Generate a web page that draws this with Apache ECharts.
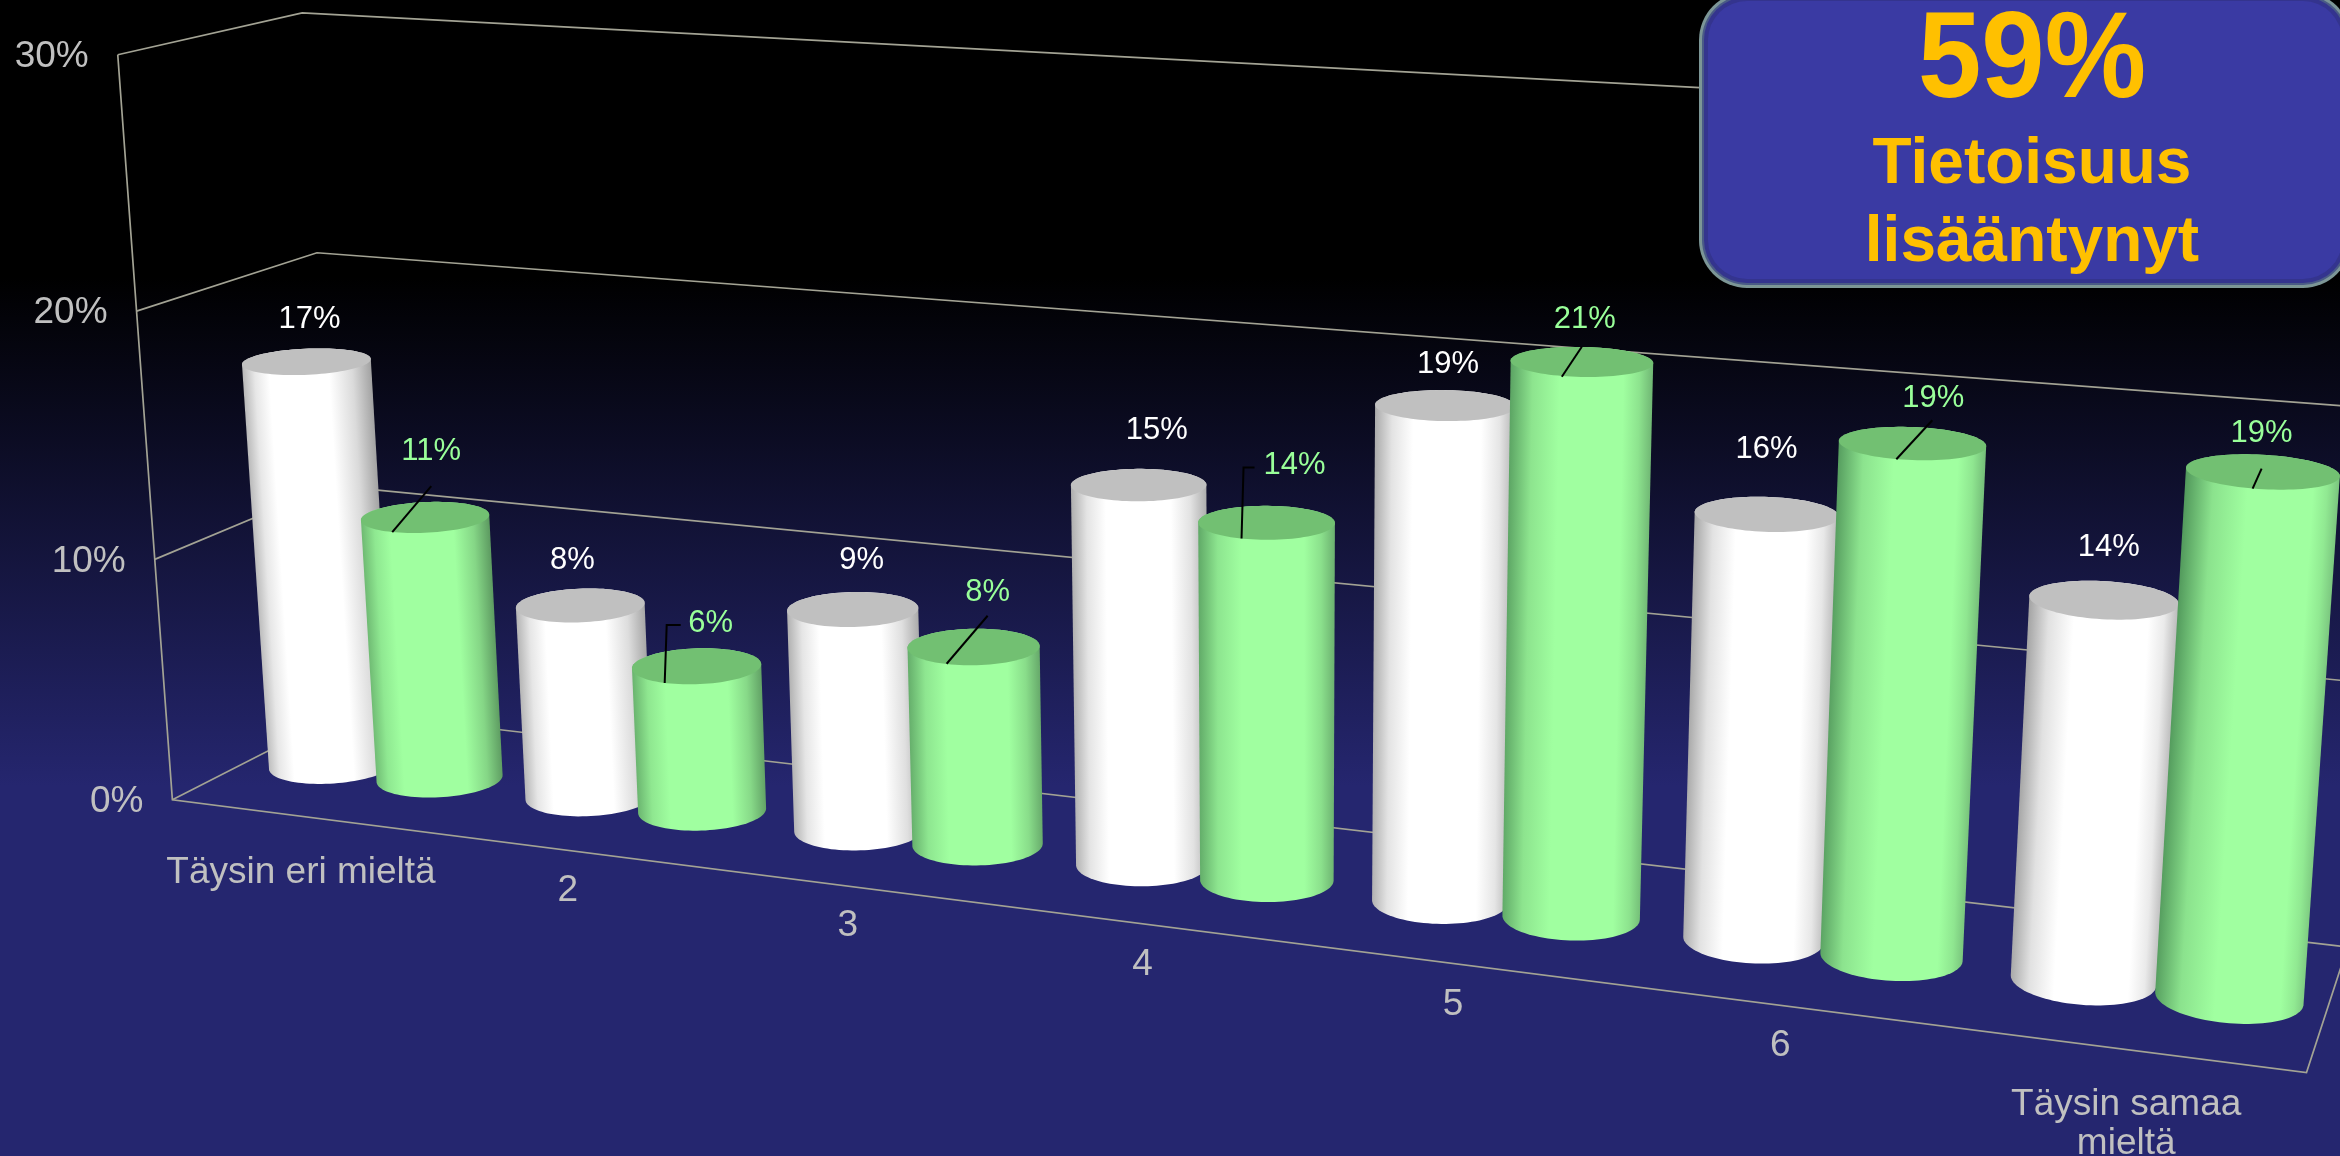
<!DOCTYPE html>
<html>
<head>
<meta charset="utf-8">
<title>Tietoisuus lisääntynyt</title>
<style>html,body{margin:0;padding:0;background:#000}#chart{width:2340px;height:1156px}</style>
<script src="https://cdn.jsdelivr.net/npm/echarts@6/dist/echarts.min.js"></script>
</head>
<body>
<div id="chart"></div>
<script>
// Survey answers, percent of respondents per response step
const categories = ['Täysin eri mieltä', '2', '3', '4', '5', '6', 'Täysin samaa\nmieltä'];
const whiteValues = [17, 8, 9, 15, 19, 16, 14];
const greenValues = [11, 6, 8, 14, 21, 19, 19];
const tickValues = [0, 10, 20, 30];
const tickLabels = ['0%', '10%', '20%', '30%'];
const calloutLines = ['59%', 'Tietoisuus', 'lisääntynyt'];

// Layout of the value labels, relative to the centre of each cylinder's top
const whiteLabelShift = [[3, -45], [-8, -48], [9, -52], [18, -57], [3, -44], [0, -68], [5, -55]];
const greenLabelShift = [[6, -69], [14, -46], [14, -57], [28, -60], [3, -45], [21, -48], [-1, -41]];
const greenLeaders = [
  [[6, -31], [-33, 15]],
  [[-16, -41], [-30, -41], [-32, 17]],
  [[14, -31], [-27, 17]],
  [[-12, -55], [-23, -55], [-25, 16]],
  [[0, -15], [-20, 15]],
  [[20, -23], [-16, 16]],
  [[-1, -3], [-10, 17]]
];
const categoryLabelDrop = [54, 37, 37, 38, 38, 38, 72];

// Camera: floor corners on screen plus the vanishing point of the vertical edges
const FLOOR = { fl: [172.4, 799.8], fr: [2306.5, 1072.5], br: [2347.5, 947], bl: [345.2, 711.5] };
const VANISH = [1280, 15900];
const HEIGHT_K = -0.04702 / 30;
const WIDTH = 2340, HEIGHT = 1156, STEPS = 7, VMAX = 30;
const TEXT_NUDGE = 3;

const whiteSlot = 0.295, greenSlot = 0.72, barRadius = 0.212, depthCentre = 0.48, depthRadius = 0.195;

const H = (function () {
  const [x0, y0] = FLOOR.fl, [x1, y1] = FLOOR.fr, [x2, y2] = FLOOR.br, [x3, y3] = FLOOR.bl;
  const dx1 = x1 - x2, dx2 = x3 - x2, sx = x0 - x1 + x2 - x3;
  const dy1 = y1 - y2, dy2 = y3 - y2, sy = y0 - y1 + y2 - y3;
  const den = dx1 * dy2 - dx2 * dy1;
  const g = (sx * dy2 - dx2 * sy) / den, h = (dx1 * sy - sx * dy1) / den;
  return { a: x1 - x0 + g * x1, b: x3 - x0 + h * x3, c: x0, d: y1 - y0 + g * y1, e: y3 - y0 + h * y3, f: y0, g, h };
})();

// X runs 0..1 along the categories, D 0..1 from front to back, Z in percent
function project(X, D, Z) {
  const k = Z * HEIGHT_K;
  const w = H.g * X + H.h * D + 1 + k;
  return [
    (H.a * X + H.b * D + H.c + k * VANISH[0]) / w,
    (H.d * X + H.e * D + H.f + k * VANISH[1]) / w
  ];
}

// Flat grid coordinates from the hidden axes become floor position and height
function world(api, pos, val) {
  const p = api.coord([pos, val]);
  return { X: p[0] / WIDTH, Z: VMAX * (1 - p[1] / HEIGHT) };
}

function circle(cx, z) {
  const pts = [];
  const rx = barRadius / STEPS;
  for (let i = 0; i < 96; i++) {
    const t = (i / 96) * Math.PI * 2;
    pts.push(project(cx + rx * Math.cos(t), depthCentre + depthRadius * Math.sin(t), z));
  }
  return pts;
}

function hull(points) {
  const p = points.slice().sort((a, b) => a[0] - b[0] || a[1] - b[1]);
  const cross = (o, a, b) => (a[0] - o[0]) * (b[1] - o[1]) - (a[1] - o[1]) * (b[0] - o[0]);
  const lower = [], upper = [];
  for (const q of p) {
    while (lower.length > 1 && cross(lower[lower.length - 2], lower[lower.length - 1], q) <= 0) lower.pop();
    lower.push(q);
  }
  for (let i = p.length - 1; i >= 0; i--) {
    const q = p[i];
    while (upper.length > 1 && cross(upper[upper.length - 2], upper[upper.length - 1], q) <= 0) upper.pop();
    upper.push(q);
  }
  lower.pop(); upper.pop();
  return lower.concat(upper);
}

function mix(c0, c1, t) {
  return 'rgb(' + c0.map((v, i) => Math.round(v + (c1[i] - v) * t)).join(',') + ')';
}

function textEl(text, x, y, fill, size, extra) {
  return {
    type: 'text',
    style: Object.assign({
      text, x, y: y + TEXT_NUDGE, fill, fontSize: size, fontFamily: '"Liberation Sans", Arial, sans-serif',
      align: 'center', verticalAlign: 'middle'
    }, extra || {})
  };
}

function lineEl(points, stroke, width) {
  return { type: 'polyline', shape: { points }, style: { stroke, lineWidth: width, fill: null } };
}

// Cylinder body shaded across its width; the lit band drifts with the distance along the floor
function cylinderItem(palette, labels, leaders) {
  return function (params, api) {
    const i = params.dataIndex;
    const val = api.value(1);
    const w = world(api, api.value(0), val);
    const base = world(api, api.value(0), 0);
    const bottom = circle(base.X, 0);
    const top = circle(w.X, w.Z);
    const cBottom = project(base.X, depthCentre, 0), cTop = project(w.X, depthCentre, w.Z);
    let ax = cTop[0] - cBottom[0], ay = cTop[1] - cBottom[1];
    const len = Math.hypot(ax, ay);
    ax /= len; ay /= len;
    const half = (Math.max(...top.map(p => p[0])) - Math.min(...top.map(p => p[0]))) / 2;
    const mx = (cTop[0] + cBottom[0]) / 2, my = (cTop[1] + cBottom[1]) / 2;
    const s1 = palette.lit0 + palette.litDrift0 * w.X, s2 = palette.lit1 + palette.litDrift1 * w.X;
    const eL = mix(palette.leftNear, palette.leftFar, w.X), eR = mix(palette.rightNear, palette.rightFar, w.X);
    const fill = new echarts.graphic.LinearGradient(
      mx + ay * half, my - ax * half, mx - ay * half, my + ax * half,
      [
        { offset: 0, color: eL },
        { offset: s1 * 0.45, color: mix(palette.leftNear, palette.faceRgb, 0.55 + 0.1 * (1 - w.X)) },
        { offset: s1, color: palette.face },
        { offset: s2, color: palette.face },
        { offset: s2 + (1 - s2) * 0.55, color: mix(palette.rightNear, palette.faceRgb, 0.6 + 0.2 * w.X) },
        { offset: 1, color: eR }
      ], true);
    const children = [
      { type: 'polygon', shape: { points: hull(bottom.concat(top)) }, style: { fill } },
      { type: 'polygon', shape: { points: top }, style: { fill: palette.cap } }
    ];
    if (leaders) {
      children.push(lineEl(leaders[i].map(o => [cTop[0] + o[0], cTop[1] + o[1]]), '#000000', 2));
    }
    children.push(textEl(val + '%', cTop[0] + labels[i][0], cTop[1] + labels[i][1], palette.label, 31));
    return { type: 'group', children };
  };
}

function frameItem(params, api) {
  const children = [];
  const left = 0, right = 1;
  const stroke = '#a3a394';
  tickValues.forEach(function (v, i) {
    const z = world(api, 0, v).Z;
    children.push(lineEl([project(left, 0, z), project(left, 1, z), project(right, 1, z)], stroke, 1.7));
    const p = project(left, 0, z);
    children.push(textEl(tickLabels[i], p[0] - 29, p[1] - 1, '#c0c0c0', 37, { align: 'right' }));
  });
  children.push(lineEl([project(left, 0, world(api, 0, tickValues[tickValues.length - 1]).Z), project(left, 0, 0),
    project(right, 0, 0), project(right, 1, 0)], stroke, 1.7));
  categories.forEach(function (name, i) {
    const p = project(world(api, i + 0.5, 0).X, 0, 0);
    children.push(textEl(name, p[0], p[1] + categoryLabelDrop[i], '#c0c0c0', 37, { lineHeight: 39 }));
  });
  return { type: 'group', children };
}

// Callout panel with a bevelled rim
function panelRect(inset, fill) {
  return {
    type: 'rect', z: 10,
    shape: { x: 1699 + inset, y: -8 + inset, width: 652 - 2 * inset, height: 296 - 2 * inset, r: 48 - inset },
    style: { fill }
  };
}

function calloutText(text, y, size, scaleY) {
  return {
    type: 'text', z: 11, x: 2032, y, scaleY,
    style: { text, x: 0, y: 0, fill: '#ffc000', align: 'center', verticalAlign: 'middle',
      fontSize: size, fontWeight: 'bold', fontFamily: '"Liberation Sans", Arial, sans-serif' }
  };
}

const chart = echarts.init(document.getElementById('chart'), null, { renderer: 'canvas' });
chart.setOption({
  animation: false,
  backgroundColor: new echarts.graphic.LinearGradient(0, 0, 0, 1, [
    { offset: 0, color: '#000000' },
    { offset: 0.24, color: '#000000' },
    { offset: 0.68, color: '#25266f' },
    { offset: 1, color: '#25266f' }
  ]),
  grid: { left: 0, right: 0, top: 0, bottom: 0 },
  xAxis: { type: 'value', min: 0, max: STEPS, show: false },
  yAxis: { type: 'value', min: 0, max: VMAX, interval: 10, show: false },
  series: [
    { type: 'custom', name: 'frame', silent: true, clip: false, data: [[0, 0]], renderItem: frameItem, z: 1 },
    {
      type: 'custom', name: 'white', clip: false, z: 2,
      data: whiteValues.map((v, i) => [i + whiteSlot, v]),
      renderItem: cylinderItem({
        face: '#ffffff', faceRgb: [255, 255, 255],
        leftNear: [186, 186, 186], leftFar: [160, 160, 160], rightNear: [160, 160, 160], rightFar: [190, 190, 190],
        cap: '#c0c0c0', label: '#ffffff',
        lit0: 0.2, litDrift0: 0.12, lit1: 0.66, litDrift1: 0.16
      }, whiteLabelShift, null)
    },
    {
      type: 'custom', name: 'green', clip: false, z: 3,
      data: greenValues.map((v, i) => [i + greenSlot, v]),
      renderItem: cylinderItem({
        face: '#a0ffa0', faceRgb: [160, 255, 160],
        leftNear: [114, 190, 118], leftFar: [80, 150, 90], rightNear: [88, 148, 92], rightFar: [124, 200, 128],
        cap: '#72c072', label: '#99ff99',
        lit0: 0.2, litDrift0: 0.22, lit1: 0.7, litDrift1: 0.14
      }, greenLabelShift, greenLeaders)
    }
  ],
  graphic: [
    panelRect(0, '#7c9696'),
    panelRect(3, '#4a5b86'),
    panelRect(5, '#34348e'),
    panelRect(9, '#3a3aa3'),
    calloutText(calloutLines[0], 63, 114, 1.08),
    calloutText(calloutLines[1], 165, 64, 1),
    calloutText(calloutLines[2], 243, 64, 1)
  ]
});
</script>
</body>
</html>
